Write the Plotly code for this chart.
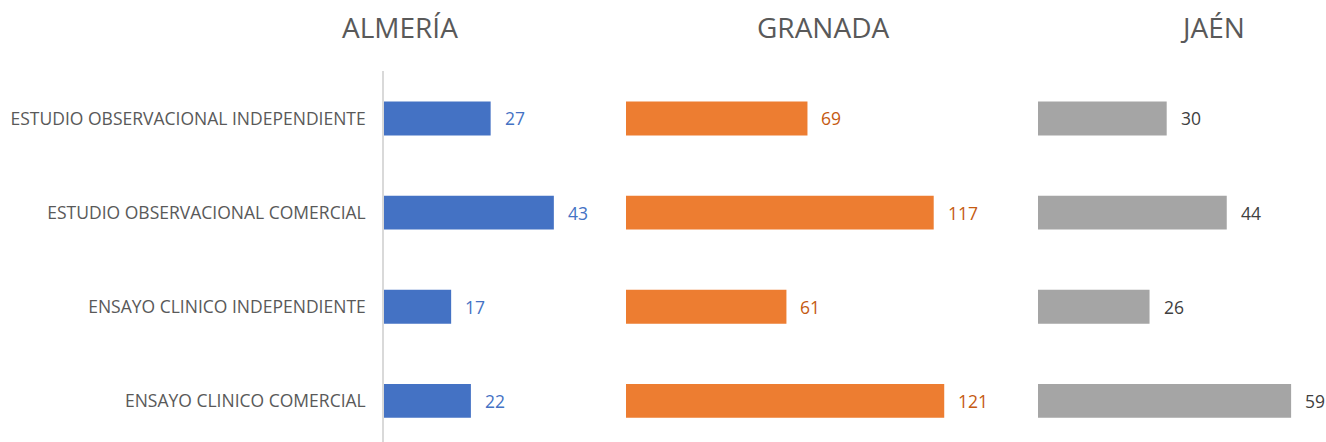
import plotly.graph_objects as go

categories = [
    "ESTUDIO OBSERVACIONAL INDEPENDIENTE",
    "ESTUDIO OBSERVACIONAL COMERCIAL",
    "ENSAYO CLINICO INDEPENDIENTE",
    "ENSAYO CLINICO COMERCIAL",
]
provinces = ["ALMERÍA", "GRANADA", "JAÉN"]
almeria = [27, 43, 17, 22]
granada = [69, 117, 61, 121]
jaen = [30, 44, 26, 59]

series = [almeria, granada, jaen]
bar_colors = ["#4472C4", "#ED7D31", "#A5A5A5"]
label_colors = ["#4472C4", "#C55A11", "#404040"]
x_ranges = [[0, 55], [0, 140], [0, 65]]

W, H = 1326, 442
# pixel domains for panels
x_domains_px = [(384, 384 + 55 * 3.95), (626, 626 + 140 * 2.63), (1038, 1038 + 65 * 4.29)]
title_x_px = [400, 823, 1212]

FONT = "Open Sans, Noto Sans, sans-serif"
fig = go.Figure()

y_top_px = 71.4
y_dom = [0, 1 - y_top_px / H]
y_range = [3.5 - (448 - 442) / 94.17, -0.5]

for i, (vals, col) in enumerate(zip(series, bar_colors)):
    xa = "x" if i == 0 else f"x{i+1}"
    ya = "y" if i == 0 else f"y{i+1}"
    fig.add_trace(go.Bar(
        x=vals, y=categories, orientation="h",
        marker=dict(color=col, line=dict(width=0)),
        xaxis=xa, yaxis=ya, showlegend=False, hoverinfo="skip",
    ))
    for v, c in zip(vals, categories):
        fig.add_annotation(
            x=v, y=c, xref=xa, yref=ya, text=str(v), showarrow=False,
            xanchor="left", xshift=12, yanchor="middle",
            font=dict(family=FONT, size=17.5, color=label_colors[i]),
        )
    d = x_domains_px[i]
    lay_x = "xaxis" if i == 0 else f"xaxis{i+1}"
    lay_y = "yaxis" if i == 0 else f"yaxis{i+1}"
    fig.layout[lay_x] = dict(
        domain=[d[0] / W, d[1] / W], range=x_ranges[i], visible=False,
        anchor=ya, fixedrange=True,
    )
    yax = dict(
        domain=y_dom, anchor=xa, type="category",
        categoryorder="array", categoryarray=categories,
        range=y_range, showgrid=False, zeroline=False, automargin=False,
    )
    if i == 0:
        yax.update(
            showline=True, linecolor="#D9D9D9", linewidth=1.5,
            ticks="outside", ticklen=13, tickcolor="rgba(0,0,0,0)",
            showticklabels=True,
            tickfont=dict(family=FONT, size=17.5, color="#595959"),
        )
    else:
        yax.update(showline=False, showticklabels=False, ticks="")
    fig.layout[lay_y] = yax
    fig.add_annotation(
        x=title_x_px[i] / W, y=1 - 27 / H, xref="paper", yref="paper",
        text=provinces[i], showarrow=False, xanchor="center", yanchor="middle",
        font=dict(family=FONT, size=28, color="#595959"),
    )

fig.update_layout(
    width=W, height=H, margin=dict(l=0, r=0, t=0, b=0),
    paper_bgcolor="white", plot_bgcolor="white",
    bargap=0.64,
)
fig.write_html(
    "out.html",
    config={"displayModeBar": False},
    post_script="document.body.style.margin='0px';",
)
